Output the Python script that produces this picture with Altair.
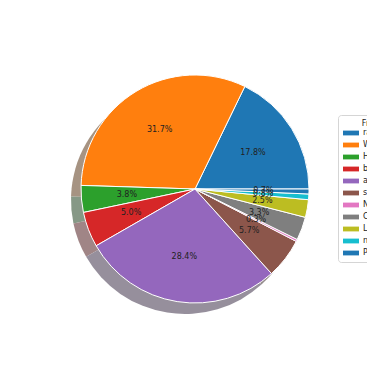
import altair as alt
import pandas as pd

labels = ["rails", "WordPress sites", "Hugo", "bottle", "angular", "spring",
          "Next.js", "CakePHP", "Laravel", "nuxt", "Phoenix"]
values = [17.8, 31.7, 3.8, 5.0, 28.4, 5.7, 0.3, 3.3, 2.5, 0.8, 0.7]
colors = ["#1f77b4", "#ff7f0e", "#2ca02c", "#d62728", "#9467bd", "#8c564b",
          "#e377c2", "#7f7f7f", "#bcbd22", "#17becf", "#1f77b4"]


def shade(h):
    r, g, b = (int(h[i:i + 2], 16) / 255 for i in (1, 3, 5))
    return "#" + "".join("%02x" % round((0.15 * c + 0.5) * 255) for c in (r, g, b))


shadow_colors = [shade(c) for c in colors]

df = pd.DataFrame({"label": labels, "value": values, "idx": list(range(len(labels)))})

CX, CY, R = 187, 181, 114
theta = alt.Theta("value:Q", stack=True, scale=alt.Scale(range=[1.5707963, -4.7123890]))
order = alt.Order("idx:Q", sort="ascending")

shadow = alt.Chart(df).mark_arc(outerRadius=R).encode(
    theta=theta, order=order,
    x=alt.value(CX - 10), y=alt.value(CY + 11),
    color=alt.Color("label:N", scale=alt.Scale(domain=[f"s{i}" for i in range(len(labels))], range=shadow_colors), legend=None),
).transform_calculate(label="'s' + datum.idx")

pie = alt.Chart(df).mark_arc(outerRadius=R, stroke="white", strokeWidth=1).encode(
    theta=theta, order=order,
    x=alt.value(CX), y=alt.value(CY),
    color=alt.Color("label:N", scale=alt.Scale(domain=labels, range=colors),
                    legend=alt.Legend(title="Framework", orient="none", legendX=330, legendY=107,
                                      symbolType="M-1,-0.3H1V0.3H-1Z", symbolSize=256,
                                      symbolStrokeWidth=0, symbolOpacity=1,
                                      labelFontSize=8, titleFontSize=8, titleFontWeight="normal",
                                      labelFont="DejaVu Sans", titleFont="DejaVu Sans",
                                      labelColor="#222", titleColor="#222",
                                      strokeColor="#d5d5d5", fillColor="white", padding=5,
                                      cornerRadius=3, rowPadding=-4, labelOffset=4,
                                      titleAnchor="middle", titleAlign="center", titlePadding=-3)),
)

text = alt.Chart(df).mark_text(radius=0.6 * R, fontSize=8, font="DejaVu Sans", color="#222").encode(
    theta=theta, order=order,
    x=alt.value(CX), y=alt.value(CY),
    text="lab:N",
).transform_calculate(lab="format(datum.value, '.1f') + '%'")

chart = alt.layer(shadow, pie, text).resolve_scale(color="independent").properties(
    width=359, height=350, padding=0, background="white",
    autosize=alt.AutoSizeParams(type="none")
).configure_view(stroke=None)

chart.save("out.html", embed_options={"renderer": "svg", "actions": False})
